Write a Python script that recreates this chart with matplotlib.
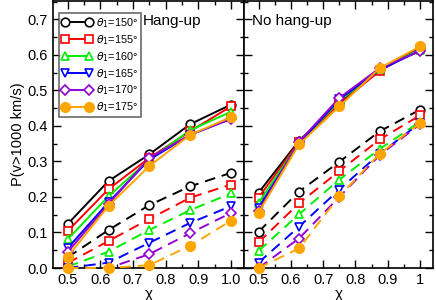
import numpy as np
import matplotlib.pyplot as plt
from matplotlib.ticker import MultipleLocator

plt.rcParams['font.family'] = ['Liberation Sans', 'DejaVu Sans']
plt.rcParams['mathtext.fontset'] = 'dejavusans'

chi = [0.5, 0.625, 0.75, 0.875, 1.0]
theta = [150, 155, 160, 165, 170, 175]

# hang-up panel
hang_solid = [
    [0.124, 0.245, 0.320, 0.405, 0.460],
    [0.104, 0.222, 0.310, 0.385, 0.455],
    [0.081, 0.202, 0.305, 0.388, 0.440],
    [0.056, 0.185, 0.305, 0.375, 0.420],
    [0.045, 0.180, 0.310, 0.375, 0.420],
    [0.032, 0.175, 0.287, 0.375, 0.425],
]
hang_dash = [
    [0.030, 0.107, 0.177, 0.230, 0.268],
    [0.014, 0.076, 0.138, 0.198, 0.235],
    [0.004, 0.046, 0.107, 0.163, 0.210],
    [0.000, 0.015, 0.071, 0.127, 0.174],
    [0.000, 0.000, 0.039, 0.098, 0.155],
    [0.000, 0.000, 0.008, 0.063, 0.133],
]

# no hang-up panel
nohang_solid = [
    [0.212, 0.358, 0.465, 0.560, 0.620],
    [0.198, 0.355, 0.462, 0.555, 0.618],
    [0.183, 0.352, 0.470, 0.560, 0.615],
    [0.170, 0.350, 0.475, 0.558, 0.612],
    [0.160, 0.355, 0.479, 0.563, 0.611],
    [0.156, 0.348, 0.455, 0.563, 0.624],
]
nohang_dash = [
    [0.102, 0.215, 0.299, 0.385, 0.446],
    [0.072, 0.182, 0.273, 0.362, 0.430],
    [0.048, 0.151, 0.249, 0.335, 0.412],
    [0.015, 0.116, 0.221, 0.322, 0.408],
    [0.000, 0.083, 0.200, 0.318, 0.405],
    [0.000, 0.055, 0.202, 0.322, 0.408],
]

colors = ['black', '#ff0000', '#00ee00', '#0000ff', '#9400d3', '#ffa500']
markers = ['o', 's', '^', 'v', 'D', 'o']
msizes = [6.2, 5.4, 6.2, 6.2, 4.8, 6.8]

fig = plt.figure(figsize=(4.36, 3.0), dpi=100)
ax1 = fig.add_axes([53 / 436, 32 / 300, 191 / 436, 267 / 300])
ax2 = fig.add_axes([244 / 436, 32 / 300, 189 / 436, 267 / 300])


def draw(ax, solid, dash):
    for i in range(len(theta)):
        face = colors[i] if i == 5 else 'white'
        ax.plot(chi, solid[i], color=colors[i], lw=1.4, marker=markers[i],
                ms=msizes[i], mfc=face, mec=colors[i], mew=1.2,
                clip_on=False, zorder=3,
                label=r'$\theta_1$=%d°' % theta[i])
        ax.plot(chi, dash[i], color=colors[i], lw=1.4, ls=(0, (5.5, 3.5)),
                marker=markers[i], ms=msizes[i], mfc=face,
                mec=colors[i], mew=1.2, clip_on=False, zorder=3)
    ax.set_xlim(0.455, 1.04)
    ax.set_ylim(0, 0.752)
    ax.xaxis.set_major_locator(MultipleLocator(0.1))
    ax.xaxis.set_minor_locator(MultipleLocator(0.05))
    ax.yaxis.set_major_locator(MultipleLocator(0.1))
    ax.yaxis.set_minor_locator(MultipleLocator(0.05))
    ax.tick_params(which='both', direction='in', top=True, right=True,
                   labelsize=10.5, width=1)
    ax.tick_params(which='major', length=6)
    ax.tick_params(which='minor', length=3)
    for s in ax.spines.values():
        s.set_linewidth(1.2)
    ax.set_xlabel('χ', fontsize=11, labelpad=0)


draw(ax1, hang_solid, hang_dash)
draw(ax2, nohang_solid, nohang_dash)

ax1.set_xticks([0.5, 0.6, 0.7, 0.8, 0.9, 1.0])
ax1.set_xticklabels(['0.5', '0.6', '0.7', '0.8', '0.9', '1.0'])
ax2.set_xticks([0.5, 0.6, 0.7, 0.8, 0.9, 1.0])
ax2.set_xticklabels(['0.5', '0.6', '0.7', '0.8', '0.9', '1'])
ax1.set_yticks([0.0, 0.1, 0.2, 0.3, 0.4, 0.5, 0.6, 0.7])
ax1.set_yticklabels(['0.0', '0.1', '0.2', '0.3', '0.4', '0.5', '0.6', '0.7'])
ax2.tick_params(labelleft=False)
ax1.set_ylabel('P(v>1000 km/s)', fontsize=10.5, labelpad=2)

ax1.text(0.731, 0.697, 'Hang-up', fontsize=11, va='center', ha='left')
ax2.text(0.481, 0.697, 'No hang-up', fontsize=11, va='center', ha='left')

leg = ax1.legend(loc='upper left', bbox_to_anchor=(0.031, 0.955), numpoints=2,
                 fontsize=7.8, handlelength=2.8, handletextpad=0.3,
                 labelspacing=0.28, borderpad=0.3, frameon=True,
                 fancybox=False, edgecolor='#444444', borderaxespad=0.0)
leg.get_frame().set_linewidth(1.2)

fig.savefig('out.png', dpi=100)
